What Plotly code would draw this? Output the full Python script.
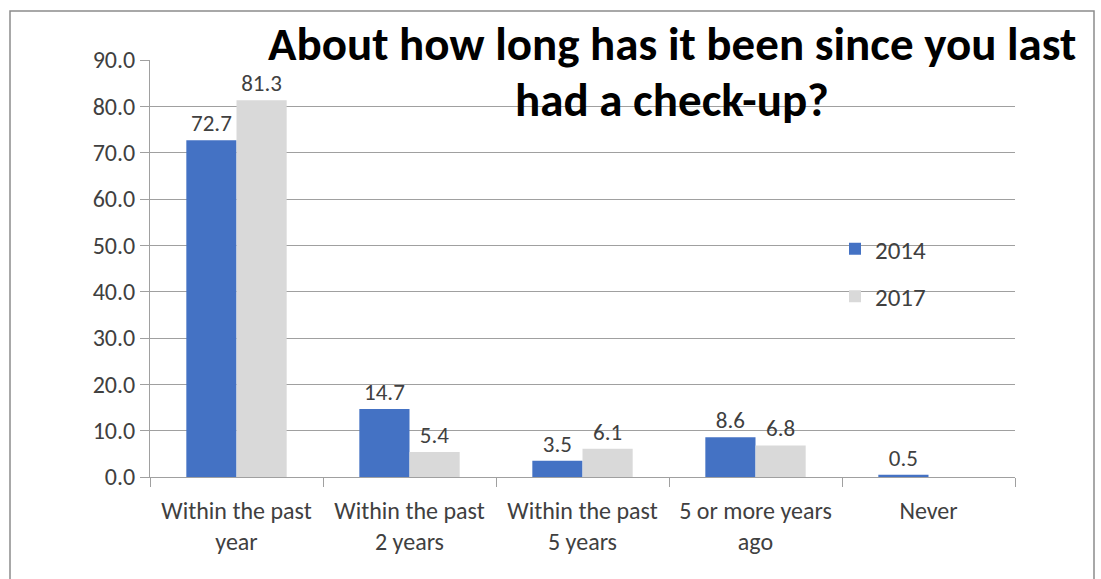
import plotly.graph_objects as go

categories = ["Within the past<br>year", "Within the past<br>2 years", "Within the past<br>5 years",
              "5 or more years<br>ago", "Never"]
series_names = ["2014", "2017"]
values_2014 = [72.7, 14.7, 3.5, 8.6, 0.5]
values_2017 = [81.3, 5.4, 6.1, 6.8, None]
title_lines = ["About how long has it been since you last", "had a check-up?"]

W, H = 1101, 579
L, R, T, B = 150, 86, 60, 102
pw, ph = W - L - R, H - T - B

def px_x(x):
    return (x - L) / pw

def px_y(y):
    return (H - B - y) / ph

FONT = "Carlito, Calibri, Lato, sans-serif"
TXT = "#404040"

fig = go.Figure()
for name, vals, col in [(series_names[0], values_2014, "#4472C4"),
                        (series_names[1], values_2017, "#D9D9D9")]:
    fig.add_trace(go.Bar(
        x=categories, y=vals, name=name, marker=dict(color=col, line=dict(width=0)),
        text=[("%.1f" % v) if v is not None else "" for v in vals],
        textposition="outside", cliponaxis=False,
        textfont=dict(family=FONT, size=23, color=TXT),
        legendgroup=name,
    ))

fig.update_layout(
    width=W, height=H,
    margin=dict(l=L, r=R, t=T, b=B),
    paper_bgcolor="white", plot_bgcolor="white",
    barmode="group", bargap=0.42, bargroupgap=0,
    font=dict(family=FONT, size=24, color=TXT),
    showlegend=True,
    legend=dict(x=px_x(835), y=px_y(226), xanchor="left", yanchor="top",
                font=dict(family=FONT, size=25, color=TXT),
                tracegroupgap=12, bgcolor="rgba(0,0,0,0)"),
    xaxis=dict(showline=True, linecolor="#a0a0a0", linewidth=1,
               ticks="outside", tickson="boundaries", ticklen=9, tickcolor="#a0a0a0",
               ticklabelstandoff=12,
               tickfont=dict(family=FONT, size=24, color=TXT), showgrid=False),
    yaxis=dict(range=[0, 90], dtick=10, tickformat=".1f",
               showline=True, linecolor="#a0a0a0", linewidth=1,
               ticks="outside", ticklen=9, tickcolor="#a0a0a0",
               showgrid=True, gridcolor="#a0a0a0", gridwidth=1,
               zeroline=False,
               tickfont=dict(family=FONT, size=24, color=TXT)),
)

for line, yc in zip(title_lines, [44, 100]):
    fig.add_annotation(text="<b>" + line + "</b>", x=px_x(672), y=px_y(yc),
                       xref="paper", yref="paper", showarrow=False,
                       xanchor="center", yanchor="middle", borderpad=0,
                       font=dict(family=FONT, size=47, color="black"))

fig.add_shape(type="rect", xref="paper", yref="paper",
              x0=px_x(10), x1=px_x(1094), y0=px_y(600), y1=px_y(11),
              line=dict(color="#8c8c8c", width=1.5), fillcolor="rgba(0,0,0,0)", layer="below")

fig.write_html("out.html", config={"displayModeBar": False},
               post_script="document.body.style.margin='0';")
